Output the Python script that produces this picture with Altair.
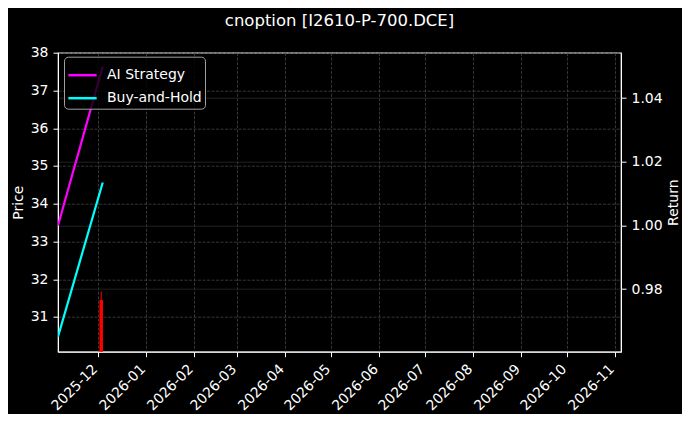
import altair as alt
import pandas as pd

# ---- data ----
ret_dates = ["2025-11-05", "2025-12-04"]
ai_strategy = [1.000, 1.050]
buy_and_hold = [0.965, 1.0135]

candle_dates = ["2025-12-03"]
candle_open = [31.45]
candle_high = [31.68]
candle_low = [29.80]
candle_close = [29.90]

series_names = ["AI Strategy", "Buy-and-Hold"]
series_colors = ["#ff00ff", "#00ffff"]

price_ticks = [31, 32, 33, 34, 35, 36, 37, 38]
return_ticks = [0.98, 1.00, 1.02, 1.04]

FONT = "DejaVu Sans"

ret_df = pd.DataFrame({
    "date": ret_dates * 2,
    "value": ai_strategy + buy_and_hold,
    "series": [series_names[0]] * len(ret_dates) + [series_names[1]] * len(ret_dates),
})
candle_df = pd.DataFrame({
    "date": candle_dates,
    "open": candle_open,
    "high": candle_high,
    "low": candle_low,
    "close": candle_close,
})

x_scale = alt.Scale(domain=[alt.DateTime(year=2025, month=11, date=5),
                            alt.DateTime(year=2026, month=11, date=5)],
                    nice=False, padding=0)
x_axis = alt.Axis(title=None, format="%Y-%m",
                  tickCount=alt.TimeIntervalStep(interval="month", step=1),
                  labelAngle=-45, labelAlign="right", labelBaseline="top",
                  labelOffset=-8, labelPadding=5, tickSize=5,
                  grid=True, gridColor="#444444", gridWidth=0.8, gridDash=[3, 1.5],
                  labelFontSize=14, labelFont=FONT, labelColor="white",
                  domainColor="white", tickColor="white", labelOverlap=False,
                  labelFlush=False)

price_scale = alt.Scale(domain=[30.08, 38.0], nice=False, zero=False)
price_axis = alt.Axis(title="Price", values=price_ticks, orient="left",
                      grid=True, gridColor="#444444", gridWidth=0.8, gridDash=[3, 1.5],
                      tickSize=5, labelPadding=5,
                      labelFontSize=14, labelFont=FONT, labelColor="white",
                      titleFontSize=14, titleFont=FONT, titleColor="white",
                      titleFontWeight="normal", titleAngle=-90,
                      titleBaseline="alphabetic", titleX=-36,
                      domainColor="white", tickColor="white")

wick = alt.Chart(candle_df).mark_rule(color="#ff0000", strokeWidth=1, clip=True).encode(
    x=alt.X("date:T", scale=x_scale, axis=x_axis),
    y=alt.Y("low:Q", scale=price_scale, axis=price_axis),
    y2="high:Q",
)
body = alt.Chart(candle_df).mark_bar(color="#ff0000", size=3.5, clip=True).encode(
    x=alt.X("date:T", scale=x_scale, axis=x_axis),
    y=alt.Y("close:Q", scale=price_scale, axis=price_axis),
    y2="open:Q",
)
price_layer = alt.layer(wick, body)

ret_scale = alt.Scale(domain=[0.9603, 1.0543], nice=False, zero=False)
ret_axis = alt.Axis(title="Return", values=return_ticks, orient="right", format=".2f",
                    grid=True, gridColor="#2a2a2a", gridWidth=0.8,
                    tickSize=5, labelPadding=5,
                    labelFontSize=14, labelFont=FONT, labelColor="white",
                    titleFontSize=14, titleFont=FONT, titleColor="white",
                    titleFontWeight="normal", titleAngle=-90,
                    titleBaseline="alphabetic", titleX=57,
                    domainColor="white", tickColor="white")

lines = alt.Chart(ret_df).mark_line(strokeWidth=2.2, clip=True).encode(
    x=alt.X("date:T", scale=x_scale, axis=x_axis),
    y=alt.Y("value:Q", scale=ret_scale, axis=ret_axis),
    color=alt.Color("series:N",
                    scale=alt.Scale(domain=series_names, range=series_colors),
                    legend=alt.Legend(title=None, orient="none", legendX=6, legendY=4,
                                      symbolType="stroke", symbolSize=800,
                                      symbolStrokeWidth=2.5,
                                      labelFontSize=14, labelFont=FONT, labelColor="white",
                                      fillColor="rgba(0,0,0,0.8)", strokeColor="#a0a0a0",
                                      cornerRadius=4, padding=3, labelOffset=9,
                                      rowPadding=0)),
    detail="series:N",
)

chart = alt.layer(price_layer, lines).resolve_scale(y="independent").properties(
    width=563,
    height=299,
    autosize=alt.AutoSizeParams(type="none"),
    padding={"left": 50, "top": 44.7, "right": 61, "bottom": 62},
    background="#000000",
    title=alt.TitleParams("cnoption [I2610-P-700.DCE]", color="white", font=FONT,
                          fontSize=16.5, fontWeight="normal", anchor="middle",
                          offset=16),
).configure_view(stroke="white", strokeWidth=1.2)

chart.save("out.html", embed_options={"renderer": "svg", "actions": False})
